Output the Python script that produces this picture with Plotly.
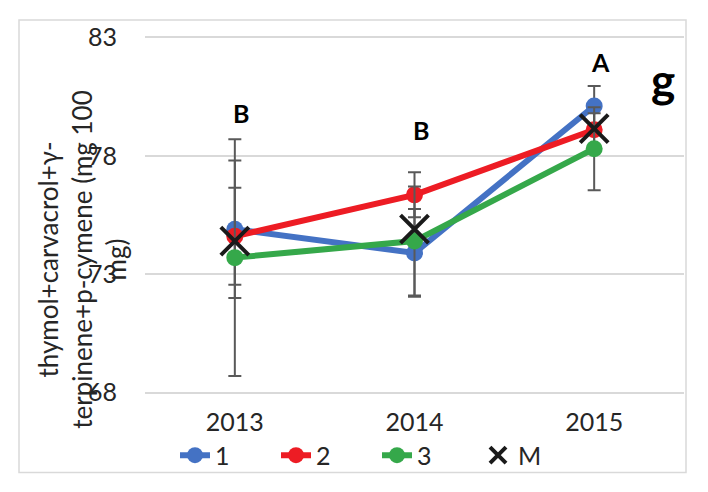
import plotly.graph_objects as go

years = ["2013", "2014", "2015"]
s1 = [74.9, 73.9, 80.1]
s2 = [74.6, 76.35, 79.1]
s3 = [73.7, 74.4, 78.3]
m = [74.4, 74.9, 79.15]
e1 = [2.9, 1.85, 0.85]
e2 = [2.05, 0.95, 0.7]
e3 = [5.0, 2.3, 1.75]
letters = ["B", "B", "A"]
letter_y = [79.8, 79.1, 81.95]
yticks = [68, 73, 78, 83]

FONT = "Lato"
ERR = "#595959"
xpos = list(range(len(years)))

# plot area in figure pixels
L, R, T, B = 137, 676, 27, 387.5
W, H = 708, 492


def px(fx):
    return (fx - L) / (R - L)


def py(fy):
    return (B - fy) / (B - T)


fig = go.Figure()
series = [("1", s1, e1, "#4472C4"), ("2", s2, e2, "#ED1C24"), ("3", s3, e3, "#35A84A")]
for name, vals, errs, col in series:
    fig.add_trace(go.Scatter(
        x=xpos, y=vals, name=name, mode="lines+markers",
        line=dict(color=col, width=6),
        marker=dict(color=col, size=17),
        error_y=dict(type="data", array=errs, visible=True, color=ERR, thickness=2, width=6.5),
    ))
fig.add_trace(go.Scatter(
    x=xpos, y=m, name="M", mode="markers",
    marker=dict(symbol="x-thin-open", size=28, line=dict(color="#1A1A1A", width=4), color="#1A1A1A"),
))

for xp, lt, ly in zip(xpos, letters, letter_y):
    fig.add_annotation(x=xp, y=ly, text="<b>%s</b>" % lt, showarrow=False, xshift=6,
                       font=dict(family=FONT, size=25, color="#000000"))

fig.add_annotation(xref="paper", yref="paper", x=px(655), y=py(72), xanchor="center", yanchor="middle",
                   text="<b>g</b>", showarrow=False, font=dict(family=FONT, size=46, color="#000000"))

fig.add_annotation(xref="paper", yref="paper", x=px(74), y=py(252), xanchor="center", yanchor="middle",
                   text="thymol+carvacrol+γ-<br>terpinene+p-cymene (mg 100<br>mg)", textangle=-90,
                   showarrow=False, align="center",
                   font=dict(family=FONT, size=26, color="#262626"))

fig.add_shape(type="rect", xref="paper", yref="paper",
              x0=px(11), x1=px(678), y0=py(465), y1=py(12),
              line=dict(color="#D9D9D9", width=1.5), layer="below")

fig.update_layout(
    width=W, height=H,
    margin=dict(l=L, r=W - R, t=T, b=H - B, autoexpand=False),
    paper_bgcolor="white", plot_bgcolor="white",
    font=dict(family=FONT, size=25, color="#262626"),
    showlegend=True,
    legend=dict(orientation="h", x=px(167), xanchor="left", y=py(448), yanchor="middle",
                font=dict(family=FONT, size=25, color="#262626"), entrywidth=56, entrywidthmode="pixels",
                bgcolor="rgba(0,0,0,0)", itemsizing="trace", tracegroupgap=0),
    xaxis=dict(range=[-0.5, 2.5], tickvals=xpos, ticktext=years, showgrid=False, showline=False,
               zeroline=False, ticks="", ticklabelstandoff=10, tickfont=dict(size=25)),
    yaxis=dict(range=[67.9, 83.1], tickvals=yticks, showgrid=True, gridcolor="#D9D9D9", gridwidth=1.5,
               zeroline=False, showline=False, ticks="", ticklabelstandoff=27, tickfont=dict(size=25)),
)

fig.write_html("out.html")
